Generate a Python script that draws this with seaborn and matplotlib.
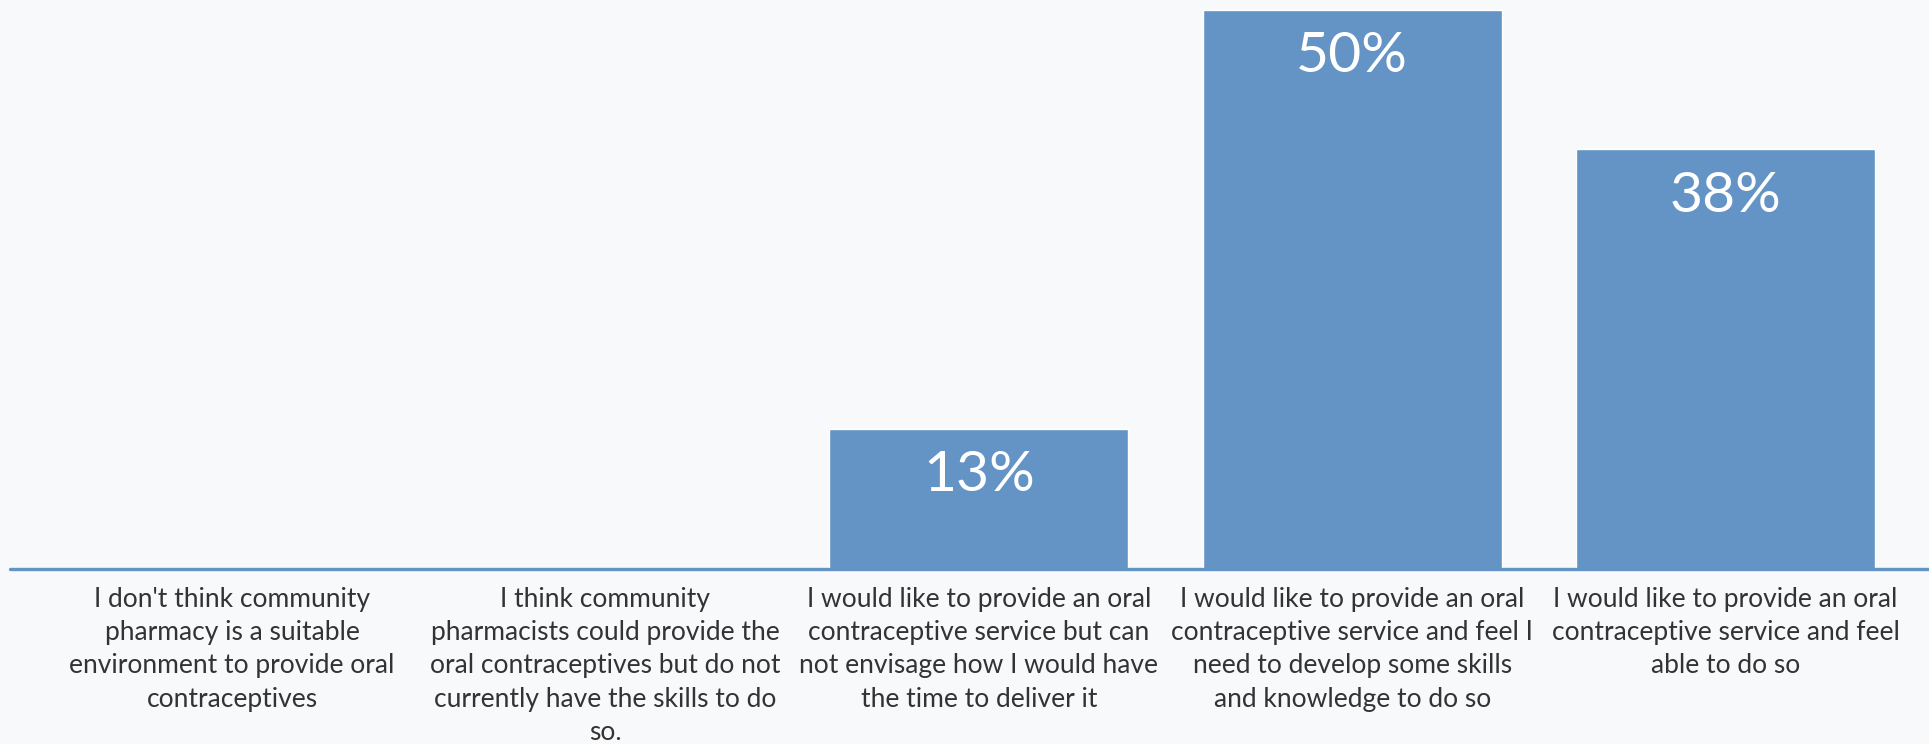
import matplotlib
matplotlib.use("Agg")
import matplotlib.pyplot as plt
import seaborn as sns
import pandas as pd

categories = [
    "I don't think community\npharmacy is a suitable\nenvironment to provide oral\ncontraceptives",
    "I think community\npharmacists could provide the\noral contraceptives but do not\ncurrently have the skills to do\nso.",
    "I would like to provide an oral\ncontraceptive service but can\nnot envisage how I would have\nthe time to deliver it",
    "I would like to provide an oral\ncontraceptive service and feel I\nneed to develop some skills\nand knowledge to do so",
    "I would like to provide an oral\ncontraceptive service and feel\nable to do so",
]
values = [0.0, 0.0, 12.5, 50.0, 37.5]
value_labels = ["", "", "13%", "50%", "38%"]

BG = "#f8f9fb"
BAR = "#6394c5"
TXT = "#333333"

sns.set_theme(style="white")
plt.rcParams["font.family"] = ["Lato", "DejaVu Sans"]

df = pd.DataFrame({"cat": categories, "val": values})

fig = plt.figure(figsize=(19.29, 7.44), dpi=100, facecolor=BG)
ax = fig.add_axes([10 / 1929, 1 - 568.5 / 744, 1 - 10 / 1929, 568.5 / 744])
ax.set_facecolor(BG)

sns.barplot(data=df, x="cat", y="val", color=BAR, saturation=1, width=0.8, ax=ax)

ax.set_xlim(-0.595, 4.545)
ax.set_ylim(0, 50 * 568.5 / (568.5 - 9.8))
ax.axhline(0, color=BAR, lw=2.4, zorder=5, clip_on=False)

for s in ax.spines.values():
    s.set_visible(False)
ax.set_yticks([])
ax.set_xlabel("")
ax.set_ylabel("")
ax.tick_params(axis="x", length=0, pad=13, labelsize=19, labelcolor=TXT)
for t in ax.get_xticklabels():
    t.set_horizontalalignment("center")
    t.set_linespacing(1.42)

for i, (v, lab) in enumerate(zip(values, value_labels)):
    if lab:
        ax.annotate(lab, xy=(i, v), xytext=(0, -45), textcoords="offset points",
                    ha="center", va="baseline", color="white", fontsize=41)

fig.savefig("out.png", dpi=100, facecolor=BG)
